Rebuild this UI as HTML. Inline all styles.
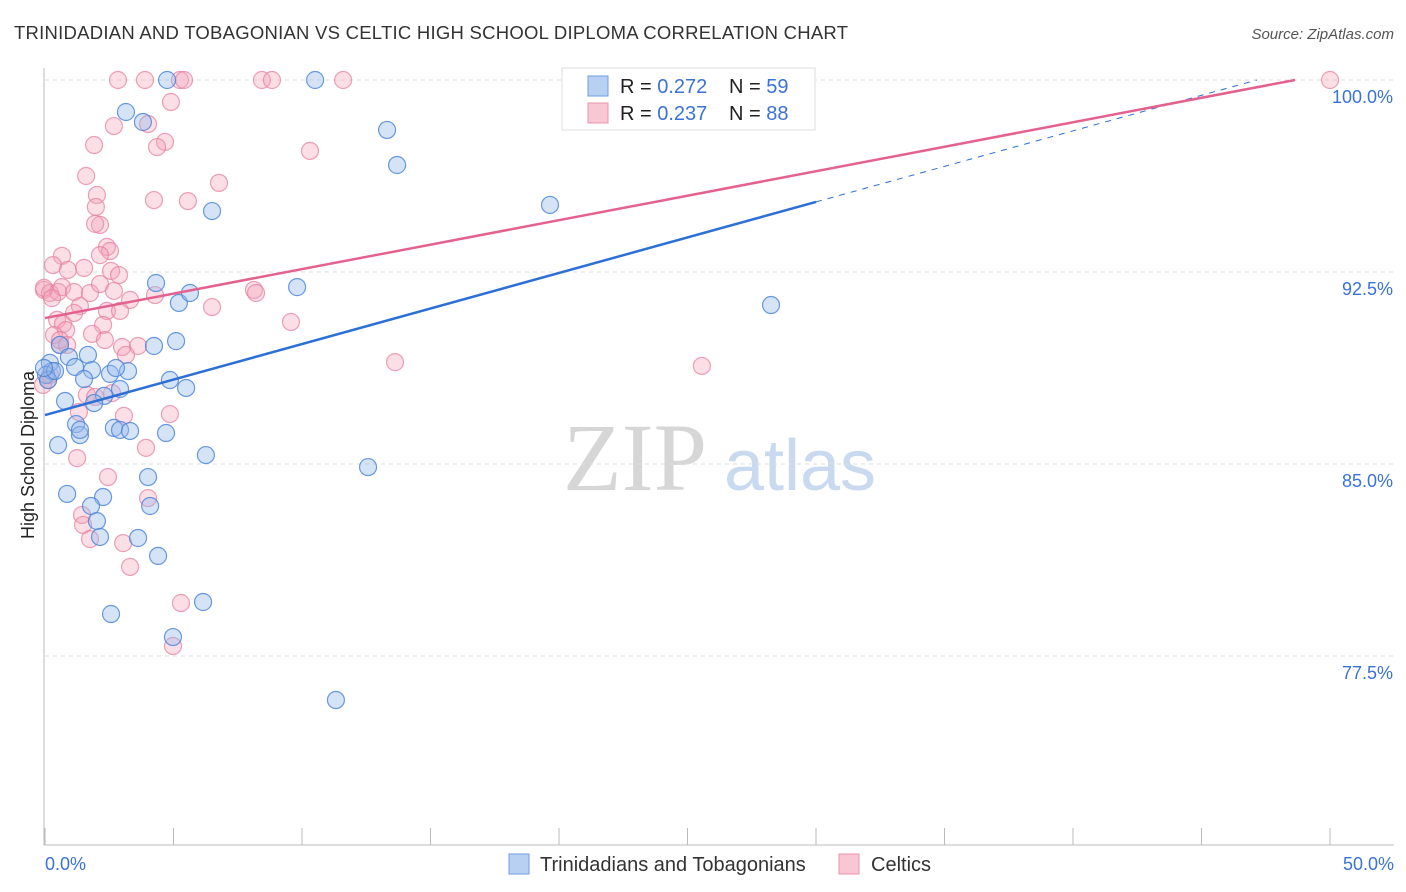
<!DOCTYPE html>
<html><head><meta charset="utf-8"><style>
body{margin:0;background:#fff;font-family:"Liberation Sans",sans-serif}
svg{display:block}
</style></head><body>
<svg id="chart" width="1406" height="892">
<text x="14" y="39" font-size="18.5" fill="#333" textLength="834">TRINIDADIAN AND TOBAGONIAN VS CELTIC HIGH SCHOOL DIPLOMA CORRELATION CHART</text>
<text x="1394" y="39" font-size="15" fill="#555" font-style="italic" text-anchor="end">Source: ZipAtlas.com</text>
<text x="0" y="0" font-size="18" fill="#222" transform="translate(34,455) rotate(-90)" text-anchor="middle">High School Diploma</text>
<g><text x="635" y="490" font-size="96" fill="#d6d6d6" font-family="Liberation Serif,serif" text-anchor="middle">ZIP</text><text x="800" y="490" font-size="72" fill="#c9d9ef" text-anchor="middle">atlas</text></g>
<g id="grid"></g><g id="marks"></g><g id="lines"></g>
<g>
<rect x="562" y="68" width="253" height="62" fill="#fff" stroke="#ddd"/>
<rect x="588" y="76" width="20" height="20" fill="#b8d1f3" stroke="#6f9ee0"/>
<text x="620" y="93" font-size="20" fill="#222">R = <tspan fill="#3a72d8">0.272</tspan></text>
<text x="729" y="93" font-size="20" fill="#222">N = <tspan fill="#3a72d8">59</tspan></text>
<rect x="588" y="103" width="20" height="20" fill="#f9c6d3" stroke="#e994ad"/>
<text x="620" y="120" font-size="20" fill="#222">R = <tspan fill="#3a72d8">0.237</tspan></text>
<text x="729" y="120" font-size="20" fill="#222">N = <tspan fill="#3a72d8">88</tspan></text>
</g>
<g>
<rect x="509" y="854" width="20" height="20" fill="#b8d1f3" stroke="#6f9ee0"/>
<text x="540" y="871" font-size="20" fill="#333">Trinidadians and Tobagonians</text>
<rect x="839" y="854" width="20" height="20" fill="#f9c6d3" stroke="#e994ad"/>
<text x="871" y="871" font-size="20" fill="#333">Celtics</text>
</g>
</svg>
<script>
const xTickLabels=["0.0%","50.0%"];
const yTicks=[100,92.5,85,77.5];
const bluePx=[[167,80],[315,80],[126,112],[143,122],[387,130],[397,165],[212,211],[550,205],[156,283],[179,303],[190,293],[297,287],[771,305],[176,341],[154,346],[60,345],[88,355],[69,357],[50,363],[75,367],[52,371],[92,370],[110,374],[128,371],[116,368],[84,379],[170,380],[186,388],[120,389],[104,396],[94,403],[65,401],[76,424],[114,428],[120,430],[130,431],[80,435],[166,433],[58,445],[206,455],[148,477],[368,467],[67,494],[103,497],[91,506],[150,506],[97,521],[100,537],[138,538],[158,556],[111,614],[203,602],[173,637],[336,700],[46,375],[48,380],[55,371],[44,368],[80,430]];
const pinkPx=[[118,80],[145,80],[180,80],[184,80],[262,80],[272,80],[343,80],[1330,80],[171,102],[114,126],[148,124],[94,145],[165,142],[157,147],[310,151],[86,176],[219,183],[97,195],[96,207],[154,200],[188,201],[100,225],[95,224],[107,247],[110,251],[62,256],[53,265],[68,270],[84,268],[111,271],[119,275],[44,290],[50,293],[58,292],[62,287],[74,292],[90,293],[100,284],[114,291],[130,300],[155,295],[254,290],[256,293],[212,307],[80,306],[107,311],[120,311],[57,320],[63,324],[74,313],[66,330],[103,325],[92,334],[105,340],[122,347],[138,346],[126,355],[291,322],[395,362],[702,366],[60,345],[54,335],[87,395],[112,393],[124,416],[79,412],[170,414],[146,448],[77,458],[108,477],[148,498],[82,515],[83,525],[90,539],[123,543],[130,567],[181,603],[173,646],[48,380],[50,375],[43,385],[44,288],[52,298],[60,340],[100,255],[67,345],[95,397]];
const blueX=bluePx.map(p=>+((p[0]-45)/25.7).toFixed(2));
const blueY=bluePx.map(p=>+(100-(p[1]-80)/25.6).toFixed(2));
const pinkX=pinkPx.map(p=>+((p[0]-45)/25.7).toFixed(2));
const pinkY=pinkPx.map(p=>+(100-(p[1]-80)/25.6).toFixed(2));
const blueTrend=[86.91,100.79];
const pinkTrend=[90.70,100.26];
const NS="http://www.w3.org/2000/svg";
const X=v=>45+v*25.7, Y=v=>80+(100-v)*25.6;
function mk(t,a,parent){const e=document.createElementNS(NS,t);for(const k in a)e.setAttribute(k,a[k]);parent.appendChild(e);return e;}
const grid=document.getElementById('grid');
yTicks.forEach(v=>{
 const l=mk('line',{x1:45,x2:1394,y1:Y(v),y2:Y(v),stroke:'#ddd','stroke-dasharray':'4,4'},grid);
 
 
 const t=mk('text',{x:1393,y:Y(v)+23,'font-size':18,fill:'#3a72d8','text-anchor':'end'},grid);
 t.textContent=v.toFixed(1)+'%';
 
 
});
mk('line',{x1:44,x2:44,y1:68,y2:845,stroke:'#bbb'},grid);
mk('line',{x1:44,x2:1394,y1:845,y2:845,stroke:'#bbb'},grid);
for(let i=0;i<=10;i++){mk('line',{x1:X(i*5),x2:X(i*5),y1:828,y2:845,stroke:'#bbb'},grid);}
[[0,'start',45],[1,'end',1394]].forEach(([i,a,x])=>{const t=mk('text',{x:x,y:870,'font-size':18,fill:'#3a72d8','text-anchor':a},grid);t.textContent=xTickLabels[i];
 
 });
const marks=document.getElementById('marks');
pinkX.forEach((x,i)=>{const c=mk('circle',{cx:X(x),cy:Y(pinkY[i]),r:8.5,fill:'rgba(244,160,184,0.35)',stroke:'rgba(230,130,160,0.75)','stroke-width':1.2},marks);
 
 });
blueX.forEach((x,i)=>{const c=mk('circle',{cx:X(x),cy:Y(blueY[i]),r:8.5,fill:'rgba(150,185,235,0.4)',stroke:'rgba(70,130,215,0.8)','stroke-width':1.2},marks);
 
 });
const lines=document.getElementById('lines');
const bAt=v=>blueTrend[0]+(blueTrend[1]-blueTrend[0])*v/50, pAt=v=>pinkTrend[0]+(pinkTrend[1]-pinkTrend[0])*v/50;
let l=mk('line',{x1:X(0),y1:Y(bAt(0)),x2:X(30),y2:Y(bAt(30)),stroke:'#2c6fd6','stroke-width':2.5},lines);


const bEnd=50*(100-blueTrend[0])/(blueTrend[1]-blueTrend[0]);
l=mk('line',{x1:X(30),y1:Y(bAt(30)),x2:X(bEnd),y2:Y(100),stroke:'#2c6fd6','stroke-width':1,'stroke-dasharray':'6,6'},lines);


const pEnd=50*(100-pinkTrend[0])/(pinkTrend[1]-pinkTrend[0]);
l=mk('line',{x1:X(0),y1:Y(pAt(0)),x2:X(pEnd),y2:Y(100),stroke:'#e4608f','stroke-width':2.5},lines);


</script>
</body></html>
